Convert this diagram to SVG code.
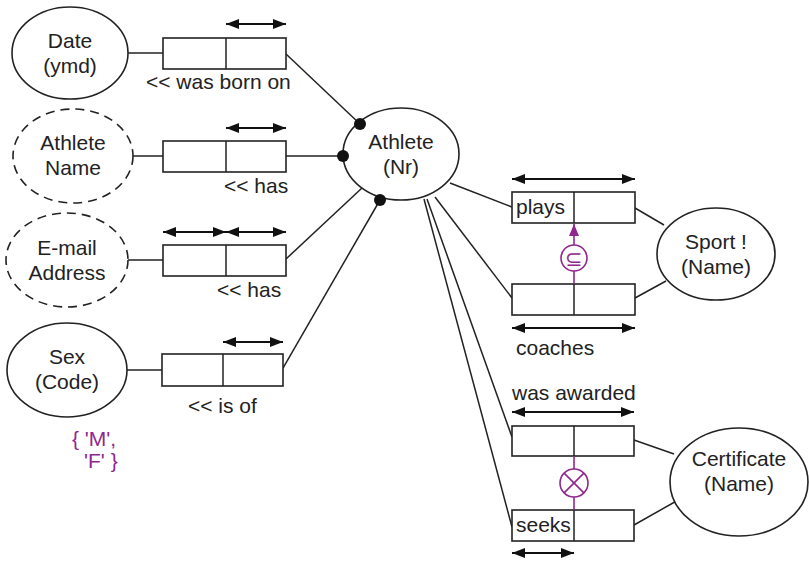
<svg xmlns="http://www.w3.org/2000/svg" width="809" height="562" viewBox="0 0 809 562">
<style>
.ent{fill:#fff;stroke:#222;stroke-width:1.6}
.dash{stroke-dasharray:9,6}
.box{fill:#fff;stroke:#222;stroke-width:1.6}
.ln{stroke:#222;stroke-width:1.5;fill:none}
.uc{stroke:#111;stroke-width:1.8;fill:none;marker-start:url(#ah);marker-end:url(#ah)}
.t{font-family:"Liberation Sans",Arial,sans-serif;font-size:21px;fill:#222}
.c{text-anchor:middle}
.p{stroke:#90278e;stroke-width:1.6;fill:none}
.pt{font-family:"Liberation Sans",Arial,sans-serif;font-size:21px;fill:#90278e}
.dot{fill:#111}
</style>
<defs>
<marker id="ah" viewBox="0 0 13 10" refX="13" refY="5" markerWidth="13" markerHeight="10" markerUnits="userSpaceOnUse" orient="auto-start-reverse"><path d="M0,0 L13,5 L0,10 z" fill="#111"/></marker>
<marker id="pah" viewBox="0 0 10 12" refX="5" refY="0" markerWidth="10" markerHeight="12" markerUnits="userSpaceOnUse" orient="0"><path d="M5,0 L10,12 L0,12 z" fill="#90278e"/></marker>
</defs>
<rect width="809" height="562" fill="#fff"/>

<g id="connectors">
<line class="ln" x1="128" y1="53" x2="163" y2="53"/>
<line class="ln" x1="133" y1="156" x2="163" y2="156"/>
<line class="ln" x1="128" y1="260" x2="163" y2="260"/>
<line class="ln" x1="127" y1="370" x2="162" y2="370"/>
<line class="ln" x1="286" y1="54" x2="360" y2="124"/>
<line class="ln" x1="286" y1="156" x2="343" y2="156"/>
<line class="ln" x1="286" y1="259" x2="362" y2="188"/>
<line class="ln" x1="283" y1="368" x2="380" y2="200"/>
<line class="ln" x1="450" y1="183" x2="512" y2="207"/>
<line class="ln" x1="435" y1="197" x2="512" y2="298"/>
<line class="ln" x1="427" y1="199" x2="512" y2="437"/>
<line class="ln" x1="424" y1="199" x2="512" y2="527"/>
<line class="ln" x1="635" y1="208" x2="664" y2="225"/>
<line class="ln" x1="635" y1="298" x2="666" y2="281"/>
<line class="ln" x1="634" y1="440" x2="674" y2="454"/>
<line class="ln" x1="634" y1="525" x2="680" y2="499"/>
</g>

<g id="date">
<ellipse class="ent" cx="70" cy="53" rx="58" ry="46"/>
<text class="t c" x="70" y="48">Date</text>
<text class="t c" x="70" y="73">(ymd)</text>
</g>
<g id="athlete-name">
<ellipse class="ent dash" cx="73" cy="156" rx="60" ry="47"/>
<text class="t c" x="73" y="150">Athlete</text>
<text class="t c" x="73" y="175">Name</text>
</g>
<g id="email">
<ellipse class="ent dash" cx="67" cy="260" rx="61" ry="47"/>
<text class="t c" x="67" y="255">E-mail</text>
<text class="t c" x="67" y="280">Address</text>
</g>
<g id="sex">
<ellipse class="ent" cx="67" cy="370" rx="60" ry="47"/>
<text class="t c" x="67" y="364">Sex</text>
<text class="t c" x="67" y="389">(Code)</text>
<text class="pt" x="72" y="446">{ 'M',</text>
<text class="pt" x="84" y="468">'F' }</text>
</g>
<g id="athlete">
<ellipse class="ent" cx="401" cy="154" rx="58" ry="46"/>
<text class="t c" x="401" y="149">Athlete</text>
<text class="t c" x="401" y="174">(Nr)</text>
<circle class="dot" cx="360" cy="124" r="6"/>
<circle class="dot" cx="343" cy="156" r="6"/>
<circle class="dot" cx="380" cy="200" r="6"/>
</g>
<g id="sport">
<ellipse class="ent" cx="716" cy="254" rx="59" ry="46"/>
<text class="t c" x="716" y="249">Sport !</text>
<text class="t c" x="716" y="274">(Name)</text>
</g>
<g id="certificate">
<ellipse class="ent" cx="739" cy="482" rx="69" ry="54"/>
<text class="t c" x="739" y="466">Certificate</text>
<text class="t c" x="739" y="491">(Name)</text>
</g>

<g id="fact-born">
<rect class="box" x="163" y="38" width="123" height="31"/>
<line class="ln" x1="226" y1="38" x2="226" y2="69"/>
<line class="uc" x1="226" y1="24" x2="286" y2="24"/>
<text class="t" x="146" y="89">&lt;&lt; was born on</text>
</g>
<g id="fact-name">
<rect class="box" x="163" y="141" width="123" height="31"/>
<line class="ln" x1="226" y1="141" x2="226" y2="172"/>
<line class="uc" x1="226" y1="128" x2="286" y2="128"/>
<text class="t" x="224" y="193">&lt;&lt; has</text>
</g>
<g id="fact-email">
<rect class="box" x="163" y="245" width="123" height="31"/>
<line class="ln" x1="226" y1="245" x2="226" y2="276"/>
<line class="uc" x1="163" y1="232" x2="226" y2="232"/>
<line class="uc" x1="226" y1="232" x2="286" y2="232"/>
<text class="t" x="217" y="297">&lt;&lt; has</text>
</g>
<g id="fact-sex">
<rect class="box" x="162" y="354" width="121" height="32"/>
<line class="ln" x1="223" y1="354" x2="223" y2="386"/>
<line class="uc" x1="223" y1="342" x2="283" y2="342"/>
<text class="t" x="188" y="413">&lt;&lt; is of</text>
</g>
<g id="fact-plays">
<rect class="box" x="512" y="192" width="123" height="31"/>
<line class="ln" x1="574" y1="192" x2="574" y2="223"/>
<line class="uc" x1="512" y1="179" x2="635" y2="179"/>
<text class="t" x="516" y="214">plays</text>
</g>
<g id="fact-coaches">
<rect class="box" x="512" y="284" width="123" height="31"/>
<line class="ln" x1="574" y1="284" x2="574" y2="315"/>
<line class="uc" x1="512" y1="328" x2="635" y2="328"/>
<text class="t" x="516" y="355">coaches</text>
</g>
<g id="fact-awarded">
<rect class="box" x="512" y="426" width="122" height="30"/>
<line class="ln" x1="574" y1="426" x2="574" y2="456"/>
<line class="uc" x1="512" y1="412" x2="634" y2="412"/>
<text class="t" x="512" y="400">was awarded</text>
</g>
<g id="fact-seeks">
<rect class="box" x="512" y="510" width="122" height="31"/>
<line class="ln" x1="574" y1="510" x2="574" y2="541"/>
<line class="uc" x1="512" y1="553" x2="574" y2="553"/>
<text class="t" x="516" y="532">seeks</text>
</g>

<g id="subset-constraint">
<line class="p" x1="574" y1="284" x2="574" y2="271"/>
<line class="p" x1="574" y1="245" x2="574" y2="224" marker-end="url(#pah)"/>
<circle class="p" cx="574" cy="258" r="13" fill="#fff"/>
<text class="pt c" x="574" y="266" style="font-size:21px">⊆</text>
</g>
<g id="exclusion-constraint">
<line class="p" x1="574" y1="456" x2="574" y2="469"/>
<line class="p" x1="574" y1="497" x2="574" y2="510"/>
<circle class="p" cx="574" cy="483" r="14" fill="#fff"/>
<line class="p" x1="564.1" y1="473.1" x2="583.9" y2="492.9"/>
<line class="p" x1="583.9" y1="473.1" x2="564.1" y2="492.9"/>
</g>
</svg>
